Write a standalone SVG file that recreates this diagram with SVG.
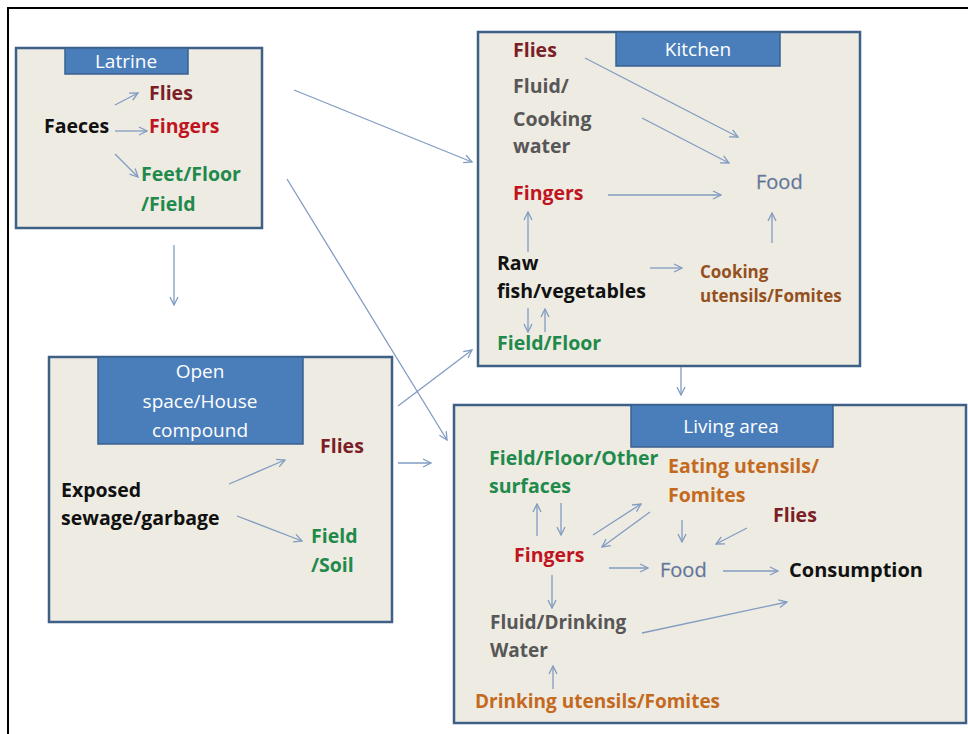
<svg xmlns="http://www.w3.org/2000/svg" width="968" height="734" viewBox="0 0 968 734">
<style>
.box{fill:#eeebe2;stroke:#3f6086;stroke-width:2.5}
.hdr{fill:#4a7ebb;stroke:#3a6190;stroke-width:1.5}
.ht{font-family:"Open Sans","Liberation Sans",sans-serif;font-size:19px;fill:#ffffff;text-anchor:middle}
.t{font-family:"Open Sans","Liberation Sans",sans-serif;font-size:19.5px;font-weight:bold}
.food{font-family:"Open Sans","Liberation Sans",sans-serif;font-size:20px;fill:#576b90;stroke:#8a9bb5;stroke-width:0.4}
.blk{fill:#111111}
.mar{fill:#7b1f26}
.red{fill:#c0141e}
.grn{fill:#1f8a4c}
.gry{fill:#575757}
.org{fill:#c46a1e}
.brn{fill:#95501f}
.c line{stroke:#819cc2;stroke-width:1.3;fill:none;marker-end:url(#ah)}
</style>
<defs>
<marker id="ah" viewBox="0 0 10 10" refX="9" refY="5" markerWidth="10" markerHeight="10" markerUnits="userSpaceOnUse" orient="auto">
<path d="M1,1 L9,5 L1,9" fill="none" stroke="#819cc2" stroke-width="1.3"/>
</marker>
</defs>
<rect width="968" height="734" fill="#ffffff"/>
<path d="M8,734 L8,8 L968,8" fill="none" stroke="#000000" stroke-width="2"/>

<g id="latrine">
<rect class="box" x="16" y="48" width="246" height="180"/>
<rect class="hdr" x="65" y="48" width="123" height="26"/>
<text class="ht" x="126" y="68">Latrine</text>
<text class="t mar" x="149" y="100">Flies</text>
<text class="t blk" x="44" y="133">Faeces</text>
<text class="t red" x="149" y="133">Fingers</text>
<text class="t grn" x="141" y="181">Feet/Floor</text>
<text class="t grn" x="141" y="211">/Field</text>
</g>

<g id="kitchen">
<rect class="box" x="478" y="32" width="382" height="334"/>
<rect class="hdr" x="616" y="32" width="164" height="34"/>
<text class="ht" x="698" y="56">Kitchen</text>
<text class="t mar" x="513" y="57">Flies</text>
<text class="t gry" x="513" y="93">Fluid/</text>
<text class="t gry" x="513" y="126">Cooking</text>
<text class="t gry" x="513" y="153">water</text>
<text class="t red" x="513" y="200">Fingers</text>
<text class="t blk" x="497" y="270">Raw</text>
<text class="t blk" x="497" y="298">fish/vegetables</text>
<text class="t grn" x="497" y="350">Field/Floor</text>
<text class="food" x="756" y="189">Food</text>
<text class="t brn" x="700" y="278" style="font-size:17px">Cooking</text>
<text class="t brn" x="700" y="302" style="font-size:17px">utensils/Fomites</text>
</g>

<g id="open-space">
<rect class="box" x="49" y="357" width="343" height="265"/>
<rect class="hdr" x="98" y="357" width="205" height="87"/>
<text class="ht" x="200" y="378">Open</text>
<text class="ht" x="200" y="408">space/House</text>
<text class="ht" x="200" y="437">compound</text>
<text class="t mar" x="320" y="453">Flies</text>
<text class="t blk" x="61" y="497">Exposed</text>
<text class="t blk" x="61" y="525">sewage/garbage</text>
<text class="t grn" x="311" y="543">Field</text>
<text class="t grn" x="311" y="572">/Soil</text>
</g>

<g id="living-area">
<rect class="box" x="454" y="405" width="512" height="318"/>
<rect class="hdr" x="631" y="405" width="202" height="42"/>
<text class="ht" x="731" y="433">Living area</text>
<text class="t grn" x="489" y="465">Field/Floor/Other</text>
<text class="t grn" x="489" y="493">surfaces</text>
<text class="t org" x="668" y="473">Eating utensils/</text>
<text class="t org" x="668" y="502">Fomites</text>
<text class="t mar" x="773" y="522">Flies</text>
<text class="t red" x="514" y="562">Fingers</text>
<text class="food" x="660" y="577">Food</text>
<text class="t blk" x="789" y="577" style="font-size:20px">Consumption</text>
<text class="t gry" x="490" y="629" style="font-size:19px">Fluid/Drinking</text>
<text class="t gry" x="490" y="657" style="font-size:19px">Water</text>
<text class="t org" x="475" y="708" style="font-size:19px">Drinking utensils/Fomites</text>
</g>

<g id="connectors" class="c">
<line x1="115" y1="105" x2="138" y2="93"/>
<line x1="115" y1="131" x2="147" y2="131"/>
<line x1="115" y1="154" x2="138" y2="177"/>
<line x1="294" y1="90" x2="472" y2="162"/>
<line x1="287" y1="179" x2="447" y2="440"/>
<line x1="174" y1="245" x2="174" y2="305"/>
<line x1="398" y1="406" x2="472" y2="350"/>
<line x1="398" y1="463" x2="431" y2="463"/>
<line x1="681" y1="367" x2="681" y2="395"/>
<line x1="585" y1="58" x2="738" y2="137"/>
<line x1="642" y1="118" x2="729" y2="163"/>
<line x1="608" y1="195" x2="721" y2="195"/>
<line x1="528" y1="252" x2="528" y2="212"/>
<line x1="650" y1="268" x2="682" y2="268"/>
<line x1="772" y1="243" x2="772" y2="213"/>
<line x1="528" y1="308" x2="528" y2="332"/>
<line x1="545" y1="332" x2="545" y2="309"/>
<line x1="229" y1="484" x2="285" y2="460"/>
<line x1="237" y1="516" x2="302" y2="541"/>
<line x1="537" y1="536" x2="537" y2="504"/>
<line x1="561" y1="503" x2="561" y2="535"/>
<line x1="593" y1="535" x2="641" y2="504"/>
<line x1="650" y1="512" x2="602" y2="547"/>
<line x1="609" y1="568" x2="648" y2="568"/>
<line x1="682" y1="520" x2="682" y2="542"/>
<line x1="747" y1="528" x2="716" y2="544"/>
<line x1="723" y1="571" x2="778" y2="571"/>
<line x1="642" y1="633" x2="787" y2="602"/>
<line x1="552" y1="575" x2="552" y2="608"/>
<line x1="553" y1="689" x2="553" y2="666"/>
</g>
</svg>
